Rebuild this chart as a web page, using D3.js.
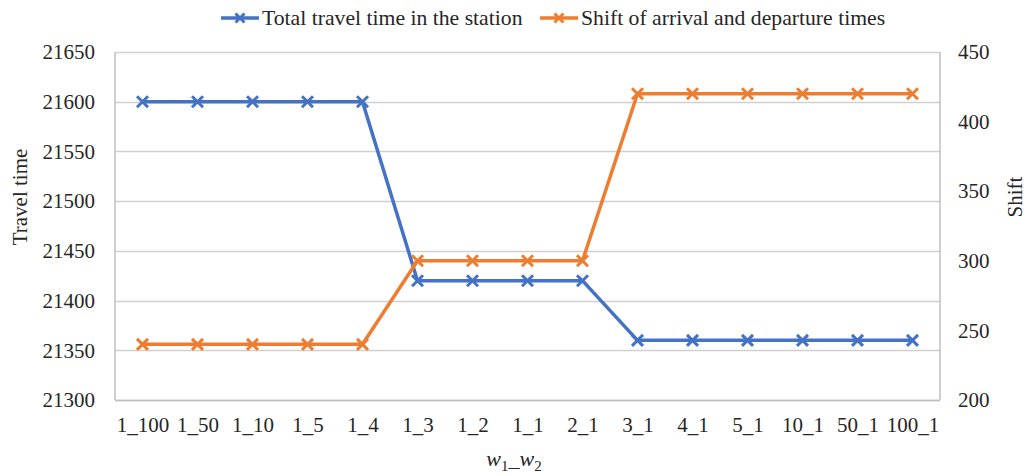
<!DOCTYPE html>
<html>
<head>
<meta charset="utf-8">
<script src="https://cdn.jsdelivr.net/npm/d3@7"></script>
<style>
  html, body { margin: 0; padding: 0; background: #fff; }
</style>
</head>
<body>
<svg id="chart" width="1027" height="476"></svg>
<script>
// Weight ratios w1_w2 on the x axis
const categories = ["1_100", "1_50", "1_10", "1_5", "1_4", "1_3", "1_2", "1_1",
                    "2_1", "3_1", "4_1", "5_1", "10_1", "50_1", "100_1"];
// Total travel time in the station (left axis)
const travelTime = [21600, 21600, 21600, 21600, 21600, 21420, 21420, 21420,
                    21420, 21360, 21360, 21360, 21360, 21360, 21360];
// Shift of arrival and departure times (right axis)
const shift = [240, 240, 240, 240, 240, 300, 300, 300,
               300, 420, 420, 420, 420, 420, 420];
const leftTicks = [21300, 21350, 21400, 21450, 21500, 21550, 21600, 21650];
const rightTicks = [200, 250, 300, 350, 400, 450];
const seriesNames = ["Total travel time in the station", "Shift of arrival and departure times"];

const FONT = "'Liberation Serif', 'Times New Roman', Times, 'DejaVu Serif', serif";
const blue = "#4472C4", orange = "#ED7D31";
const svg = d3.select("#chart").attr("font-family", FONT);
const plot = { left: 115, right: 940, top: 52, bottom: 400 };

const x = d3.scalePoint().domain(categories).range([plot.left, plot.right]).padding(0.5);
const yL = d3.scaleLinear().domain([21300, 21650]).range([plot.bottom, plot.top]);
const yR = d3.scaleLinear().domain([200, 450]).range([plot.bottom, plot.top]);

// gridlines
svg.append("g").selectAll("line").data(leftTicks).join("line")
  .attr("x1", plot.left).attr("x2", plot.right)
  .attr("y1", d => Math.round(yL(d)) + 0.5).attr("y2", d => Math.round(yL(d)) + 0.5)
  .attr("stroke", "#d0d0d0").attr("stroke-width", 1.5);

// frame: left, right and bottom axis lines
const frame = svg.append("g").attr("stroke", "#bfbfbf").attr("stroke-width", 1.5);
frame.append("line").attr("x1", plot.left).attr("x2", plot.left).attr("y1", plot.top).attr("y2", plot.bottom);
frame.append("line").attr("x1", plot.right).attr("x2", plot.right).attr("y1", plot.top).attr("y2", plot.bottom);
frame.append("line").attr("x1", plot.left).attr("x2", plot.right).attr("y1", plot.bottom + 0.5).attr("y2", plot.bottom + 0.5);

function styleAxis(g) {
  g.attr("font-family", FONT).attr("font-size", 21);
  g.select(".domain").remove();
  g.selectAll("text").attr("fill", "#262626").style("font-family", FONT).style("font-size", "21px");
}

// left axis
svg.append("g").attr("transform", `translate(${plot.left},0)`)
  .call(d3.axisLeft(yL).tickValues(leftTicks).tickSize(0).tickPadding(20).tickFormat(d3.format("d")))
  .call(styleAxis);

// right axis
svg.append("g").attr("transform", `translate(${plot.right},0)`)
  .call(d3.axisRight(yR).tickValues(rightTicks).tickSize(0).tickPadding(18).tickFormat(d3.format("d")))
  .call(styleAxis);

// bottom axis
svg.append("g").attr("transform", `translate(0,${plot.bottom})`)
  .call(d3.axisBottom(x).tickSize(0).tickPadding(17))
  .call(styleAxis);

function label(sel) {
  return sel.attr("fill", "#262626").style("font-family", FONT).style("font-size", "21px");
}

// axis titles
svg.append("text").attr("transform", "translate(27,197) rotate(-90)")
  .attr("text-anchor", "middle").call(label).text("Travel time");
svg.append("text").attr("transform", "translate(1022,197) rotate(-90)")
  .attr("text-anchor", "middle").call(label).text("Shift");

const xt = svg.append("text").attr("x", 514).attr("y", 466).attr("text-anchor", "middle")
  .call(label).style("font-size", "22px").style("font-style", "italic");
xt.append("tspan").text("w");
xt.append("tspan").attr("dy", 5).style("font-size", "15px").style("font-style", "normal").text("1");
xt.append("tspan").attr("dy", -5).style("font-style", "normal").text("_");
xt.append("tspan").text("w");
xt.append("tspan").attr("dy", 5).style("font-size", "15px").style("font-style", "normal").text("2");

// X-shaped marker path
function cross(s) {
  return `M${-s},${-s}L${s},${s}M${-s},${s}L${s},${-s}`;
}

function drawSeries(values, yScale, color) {
  const g = svg.append("g");
  g.append("path").datum(values)
    .attr("fill", "none").attr("stroke", color).attr("stroke-width", 3.5)
    .attr("stroke-linejoin", "round")
    .attr("d", d3.line().x((d, i) => x(categories[i])).y(d => yScale(d)));
  g.selectAll("path.m").data(values).join("path").attr("class", "m")
    .attr("transform", (d, i) => `translate(${x(categories[i])},${yScale(d)})`)
    .attr("d", cross(5.5)).attr("stroke", color).attr("stroke-width", 3).attr("fill", "none");
}
drawSeries(travelTime, yL, blue);
drawSeries(shift, yR, orange);

// legend
const legend = [
  { name: seriesNames[0], color: blue, x: 221 },
  { name: seriesNames[1], color: orange, x: 540 }
];
const lg = svg.append("g");
legend.forEach(l => {
  lg.append("line").attr("x1", l.x).attr("x2", l.x + 38).attr("y1", 18).attr("y2", 18)
    .attr("stroke", l.color).attr("stroke-width", 3.5);
  lg.append("path").attr("transform", `translate(${l.x + 19},18)`).attr("d", cross(4.5))
    .attr("stroke", l.color).attr("stroke-width", 3).attr("fill", "none");
  lg.append("text").attr("x", l.x + 41).attr("y", 25).call(label).style("font-size", "21.7px").text(l.name);
});
</script>
</body>
</html>
